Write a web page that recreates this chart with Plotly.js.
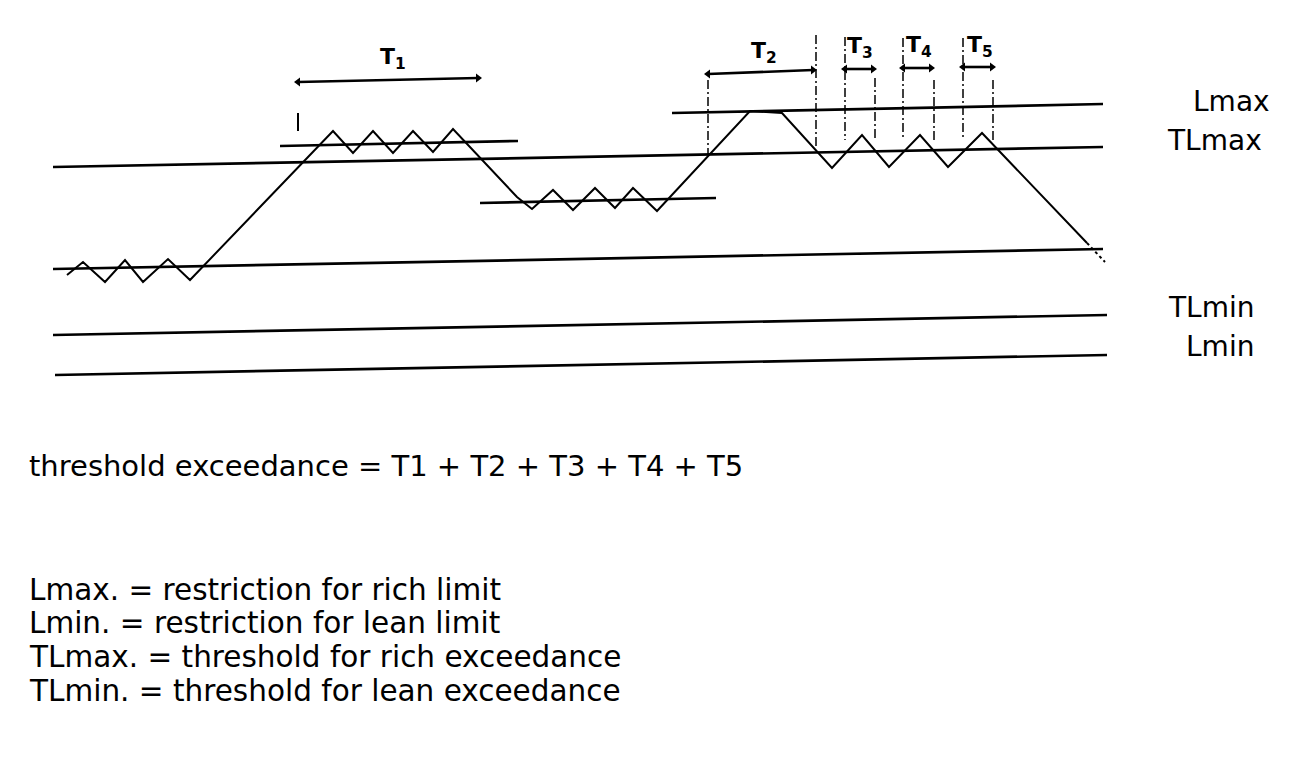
<!DOCTYPE html>
<html>
<head>
<meta charset="utf-8">
<script src="https://cdn.plot.ly/plotly-3.0.1.min.js"></script>
<style>
  html, body { margin: 0; padding: 0; background: #ffffff; }
  #chart { width: 1312px; height: 774px; }
</style>
</head>
<body>
<div id="chart"></div>
<script>
// ---- Diagram data (time on x, level on y; schematic units) ----
// Horizontal limit / level lines (start and end points, slightly tilted as in the scan)
const levelNames = ['Lmax', 'TLmax', 'plateau1', 'plateau2', 'base', 'TLmin', 'Lmin'];
const levelX0 = [672, 53, 280, 480, 53, 53, 55];
const levelX1 = [1103, 1103, 518, 716, 1103, 1107, 1107];
const levelY0 = [113, 167, 146, 203, 269, 335, 375];
const levelY1 = [104, 147, 141, 198, 249, 315, 355];

// Lambda signal (zig-zag)
const sigX = [67, 83, 105, 125, 143, 168, 190, 317, 333, 353, 373, 393, 413, 433, 453, 517, 532, 553, 573, 595, 615, 633, 657, 750, 782, 832, 862, 889, 920, 948, 982, 1087];
const sigY = [275, 262, 282, 260, 282, 259, 280, 147, 131, 153, 131, 153, 131, 152, 129, 197, 209, 190, 210, 188, 208, 188, 211, 111, 113, 168, 135, 167, 135, 167, 133, 243];
const tailX = [1087, 1105];
const tailY = [243, 262];

// Vertical marker lines bounding the exceedance intervals
const vX   = [708, 816, 845, 875, 903, 934, 963, 993];
const vTop = [80, 35, 37, 78, 38, 80, 38, 80];
const vBot = [155, 148, 140, 138, 140, 140, 140, 140];
const t1TickX = [298, 298];
const t1TickY = [113, 131];

// Interval arrows T1..T5
const arrowNames = ['1', '2', '3', '4', '5'];
const arrowX0 = [298, 708, 845, 903, 963];
const arrowX1 = [478, 813, 873, 931, 992];
const arrowY0 = [82, 74, 69, 68, 67];
const arrowY1 = [78, 70, 69, 68, 67];
const arrowLabelX = [393, 764, 860, 919, 980];
const arrowLabelY = [58, 52, 47, 46, 46];

// Right-hand level labels
const sideLabels = ['Lmax', 'TLmax', 'TLmin', 'Lmin'];
const sideLabelX = [1191, 1165, 1166, 1184];
const sideLabelY = [101, 140, 307, 346];

// Text below the diagram
const formulaText = 'threshold exceedance = T1 + T2 + T3 + T4 + T5';
const legendLines = [
  'Lmax. = restriction for rich limit',
  'Lmin. = restriction for lean limit',
  'TLmax. = threshold for rich exceedance',
  'TLmin. = threshold for lean exceedance'
];
const legendY = [590, 623, 657, 691];

// ---- Build traces ----
const traces = [];
const font = 'DejaVu Sans, Liberation Sans, Arial, sans-serif';

for (let i = 0; i < levelNames.length; i++) {
  traces.push({
    type: 'scatter', mode: 'lines', name: levelNames[i],
    x: [levelX0[i], levelX1[i]], y: [levelY0[i], levelY1[i]],
    line: { color: '#000', width: 2.7 }, hoverinfo: 'skip'
  });
}

traces.push({
  type: 'scatter', mode: 'lines', name: 'signal',
  x: sigX, y: sigY, line: { color: '#000', width: 2 }, hoverinfo: 'skip'
});
traces.push({
  type: 'scatter', mode: 'lines', name: 'signal tail',
  x: tailX, y: tailY, line: { color: '#000', width: 2, dash: '3px,3px' }, hoverinfo: 'skip'
});

for (let i = 0; i < vX.length; i++) {
  traces.push({
    type: 'scatter', mode: 'lines',
    x: [vX[i], vX[i]], y: [vTop[i], vBot[i]],
    line: { color: '#000', width: 1.5, dash: '9px,3px,2px,3px' }, hoverinfo: 'skip'
  });
}
traces.push({
  type: 'scatter', mode: 'lines', x: t1TickX, y: t1TickY,
  line: { color: '#000', width: 2 }, hoverinfo: 'skip'
});

for (let i = 0; i < arrowNames.length; i++) {
  traces.push({
    type: 'scatter', mode: 'lines+markers',
    x: [arrowX0[i], arrowX1[i]], y: [arrowY0[i], arrowY1[i]],
    line: { color: '#000', width: 2.6 },
    marker: { color: '#000', size: 8, symbol: ['triangle-left', 'triangle-right'] },
    hoverinfo: 'skip'
  });
}

const annotations = [];
for (let i = 0; i < arrowNames.length; i++) {
  annotations.push({
    x: arrowLabelX[i], y: arrowLabelY[i], xref: 'x', yref: 'y',
    text: '<b>T<sub>' + arrowNames[i] + '</sub></b>', showarrow: false,
    xanchor: 'center', yanchor: 'middle',
    font: { family: font, size: 22, color: '#000' }
  });
}
for (let i = 0; i < sideLabels.length; i++) {
  annotations.push({
    x: sideLabelX[i], y: sideLabelY[i], xref: 'x', yref: 'y',
    text: sideLabels[i], showarrow: false, xanchor: 'left', yanchor: 'middle',
    font: { family: font, size: 28, color: '#000' }
  });
}
annotations.push({
  x: 27, y: 466, xref: 'x', yref: 'y', text: formulaText, showarrow: false,
  xanchor: 'left', yanchor: 'middle', font: { family: font, size: 29, color: '#000' }
});
for (let i = 0; i < legendLines.length; i++) {
  annotations.push({
    x: 27, y: legendY[i], xref: 'x', yref: 'y', text: legendLines[i], showarrow: false,
    xanchor: 'left', yanchor: 'middle', font: { family: font, size: 29.5, color: '#000' }
  });
}

const layout = {
  width: 1312, height: 774,
  margin: { l: 0, r: 0, t: 0, b: 0 },
  paper_bgcolor: '#fff', plot_bgcolor: '#fff',
  showlegend: false,
  xaxis: { range: [0, 1312], visible: false, fixedrange: true },
  yaxis: { range: [774, 0], visible: false, fixedrange: true },
  annotations: annotations
};

Plotly.newPlot('chart', traces, layout, { displayModeBar: false, staticPlot: true });
</script>
</body>
</html>
